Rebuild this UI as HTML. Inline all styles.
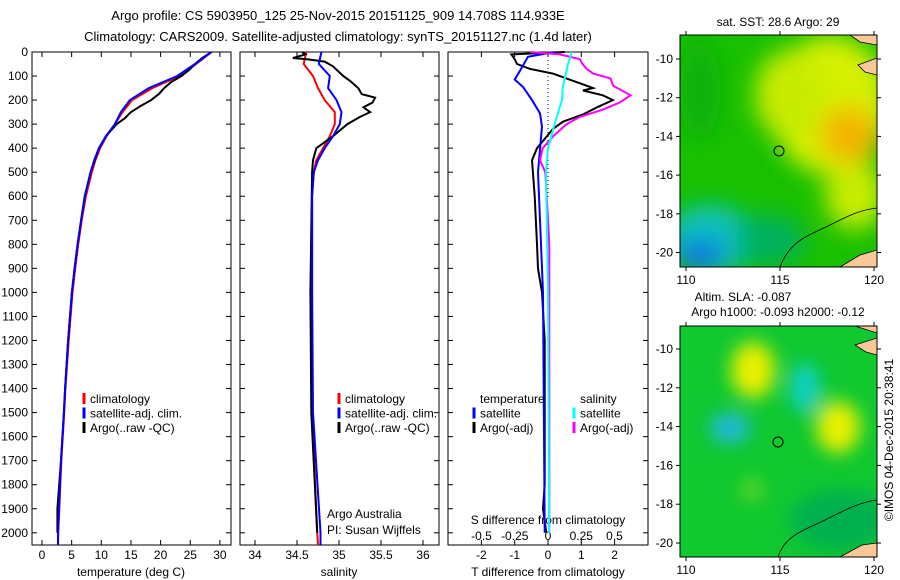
<!DOCTYPE html>
<html><head><meta charset="utf-8"><style>
body{margin:0;background:#fff}
svg{display:block;font-family:"Liberation Sans",sans-serif;font-size:12px}
</style></head><body>
<svg id="s" width="900" height="580" viewBox="0 0 900 580" xmlns="http://www.w3.org/2000/svg">
<defs>
<clipPath id="c1"><rect x="680" y="35" width="197" height="232"/></clipPath>
<clipPath id="c2"><rect x="680" y="326" width="197" height="231"/></clipPath>
<filter id="bl" x="-50%" y="-50%" width="200%" height="200%"><feGaussianBlur stdDeviation="12"/></filter>
<filter id="bl2" x="-50%" y="-50%" width="200%" height="200%"><feGaussianBlur stdDeviation="9"/></filter>
</defs>
<text x="338" y="20" text-anchor="middle" font-size="13">Argo profile: CS 5903950_125 25-Nov-2015 20151125_909 14.708S 114.933E</text>
<text x="338" y="41" text-anchor="middle" font-size="13">Climatology: CARS2009. Satellite-adjusted climatology: synTS_20151127.nc (1.4d later)</text>

<g>
<g clip-path="url(#c1)">
<rect x="680" y="35" width="197" height="232" fill="#18c000"/>
<g filter="url(#bl)">
<ellipse cx="830" cy="105" rx="60" ry="70" fill="#d6f000"/>
<ellipse cx="790" cy="95" rx="35" ry="45" fill="#c8ec00"/>
<ellipse cx="855" cy="195" rx="30" ry="35" fill="#c8ec00"/>
<ellipse cx="850" cy="135" rx="30" ry="28" fill="#f4b400"/>
<ellipse cx="700" cy="90" rx="20" ry="50" fill="#10b010"/>
<ellipse cx="710" cy="240" rx="45" ry="35" fill="#10c0c0"/>
<ellipse cx="700" cy="255" rx="25" ry="15" fill="#1070e0"/>
<ellipse cx="770" cy="240" rx="35" ry="25" fill="#00b060"/>
</g>
<path d="M850 35 L877 35 L877 45 L860 42 Z M858 65 L877 58 L877 75 L865 72 Z M840 267 L860 255 L877 250 L877 267 Z" fill="#f9c896" stroke="#000" stroke-width="0.8"/>
<path d="M780 267 C790 240 810 235 830 225 C850 215 860 210 877 208" fill="none" stroke="#000" stroke-width="0.8"/>
</g>
<rect x="680" y="35" width="197" height="232" fill="none" stroke="#000"/>
<circle cx="779" cy="151" r="5" fill="none" stroke="#000"/>
<text x="778" y="26" text-anchor="middle" font-size="12">sat. SST: 28.6 Argo: 29</text>
</g>

<g>
<g clip-path="url(#c2)">
<rect x="680" y="326" width="197" height="231" fill="#10c830"/>
<g filter="url(#bl2)">
<ellipse cx="753" cy="370" rx="22" ry="28" fill="#e8f000"/>
<ellipse cx="838" cy="427" rx="22" ry="26" fill="#e8f000"/>
<ellipse cx="805" cy="388" rx="15" ry="25" fill="#10d0c8"/>
<ellipse cx="730" cy="428" rx="20" ry="15" fill="#20b8e0"/>
<ellipse cx="752" cy="490" rx="10" ry="10" fill="#70dc20"/>
<ellipse cx="840" cy="520" rx="50" ry="30" fill="#00b050"/>
</g>
<path d="M855 326 L877 326 L877 333 Z M855 345 L877 338 L877 355 L866 352 Z M840 557 L862 545 L877 543 L877 557 Z" fill="#f9c896" stroke="#000" stroke-width="0.8"/>
<path d="M778 557 C785 535 805 530 825 520 C845 510 860 502 877 500" fill="none" stroke="#000" stroke-width="0.8"/>
</g>
<rect x="680" y="326" width="197" height="231" fill="none" stroke="#000"/>
<circle cx="778" cy="442" r="5" fill="none" stroke="#000"/>
<text x="743" y="301" text-anchor="middle" font-size="12">Altim. SLA: -0.087</text>
<text x="778" y="316" text-anchor="middle" font-size="12">Argo h1000: -0.093 h2000: -0.12</text>
</g>
<text transform="translate(893,440) rotate(-90)" text-anchor="middle" font-size="12">©IMOS 04-Dec-2015 20:38:41</text>

<text x="327" y="518" font-size="12">Argo Australia</text>
<text x="327" y="534" font-size="12">PI: Susan Wijffels</text>
<text x="548" y="524" text-anchor="middle" font-size="12">S difference from climatology</text>
</svg>
<script>
// ---- data ----
const depthTicks=[0,100,200,300,400,500,600,700,800,900,1000,1100,1200,1300,1400,1500,1600,1700,1800,1900,2000];
const tempTicks=[0,5,10,15,20,25,30];
const salTicks=["34","34.5","35","35.5","36"];
const tdTicks=[-2,-1,0,1,2];
const sdTicks=["-0.5","-0.25","0","0.25","0.5"];
const lonTicks=[110,115,120];
const latTicks=[-10,-12,-14,-16,-18,-20];

const tClimD=[0,50,100,150,200,250,300,350,400,450,500,600,700,800,900,1000,1200,1400,1500,1700,2000,2050];
const tClimV=[28.6,26,23.2,18.6,15.2,13.6,12.3,10.9,9.8,9.0,8.4,7.4,6.7,6.1,5.6,5.15,4.5,3.95,3.75,3.25,2.75,2.7];
const tSatV =[28.6,25.8,22.8,18.0,14.8,13.3,12.3,10.8,9.6,8.8,8.2,7.25,6.6,6.0,5.5,5.05,4.4,3.9,3.7,3.2,2.7,2.7];
const tArgoD=[0,25,50,75,100,125,150,175,200,225,250,275,300,350,400,500,600,700,800,900,1000,1200,1400,1500,1700,1900,2000];
const tArgoV=[28.6,27,25.8,24.8,23.5,21.8,20.6,19.7,18.4,16.6,15,14,12.6,10.8,9.6,8.2,7.2,6.6,6.0,5.5,5.05,4.4,3.9,3.7,3.2,2.6,2.6];

const sD=[0,50,100,150,200,250,300,350,400,450,500,600,1000,1500,2000,2050];
const sClimV=[34.61,34.58,34.69,34.75,34.83,34.95,34.95,34.89,34.81,34.73,34.70,34.68,34.68,34.68,34.74,34.75];
const sSatV=[34.79,34.76,34.89,34.87,34.97,35.03,35.01,34.93,34.83,34.75,34.70,34.68,34.68,34.69,34.78,34.78];
const sArgoD=[0,10,25,30,40,60,100,120,150,175,190,210,230,250,270,300,350,400,450,500,1000,1500,2000];
const sArgoV=[34.56,34.6,34.45,34.62,34.83,34.93,35.05,35.13,35.23,35.27,35.43,35.4,35.29,35.37,35.25,35.1,34.93,34.73,34.69,34.68,34.66,34.67,34.74];

const tdD=[0,20,80,115,145,200,255,310,500,1000,2000];
const tdSatV=[0.2,-0.6,-0.85,-1.0,-0.75,-0.48,-0.24,-0.18,-0.3,-0.15,-0.1];
const tdArgoD=[0,10,30,50,70,90,110,130,150,160,180,200,230,260,290,320,350,400,450,600,800,900,1000,1200,1500,1800,1900,2000];
const tdArgoV=[0.5,-1.1,-1.0,-0.93,-0.55,0.15,0.55,0.96,1.35,1.05,1.65,1.95,1.47,1.05,0.45,0.15,-0.03,-0.33,-0.48,-0.4,-0.33,-0.3,-0.18,-0.1,-0.1,-0.1,-0.15,-0.05];
const sdSatD=[0,50,150,200,300,400,500,1000,2000];
const sdSatV=[0.18,0.15,0.11,0.105,0.05,0,-0.015,0,0.01];
const sdArgoD=[0,10,30,50,70,90,110,140,180,210,240,270,300,350,400,450,500,600,800,1000,2000];
const sdArgoV=[-0.135,0.09,0.24,0.26,0.29,0.34,0.47,0.49,0.62,0.54,0.41,0.24,0.14,0.04,-0.04,-0.06,-0.02,-0.01,0.01,0.01,0.01];

// ---- axes ----
const Y=d=>52+d*0.2404;
const xT=v=>42+v*5.93;
const xS=v=>255+(v-34)*84;
const xTD=v=>548+v*33.3;
const xSD=v=>548+v*133;
const lonX=v=>686+(v-110)*18.8;
const lat1=v=>59+(-10-v)*19.35;
const lat2=v=>349+(-10-v)*19.4;
const svg=document.getElementById('s');
const NS='http://www.w3.org/2000/svg';
function mk(tag,attrs,parent){const e=document.createElementNS(NS,tag);for(const k in attrs)e.setAttribute(k,attrs[k]);(parent||svg).appendChild(e);return e;}
function txt(x,y,s,anchor,parent){const e=mk('text',{x:x,y:y,'text-anchor':anchor||'middle'},parent);e.textContent=s;return e;}

const panels=[{x0:32,x1:231,name:'temperature-panel'},{x0:240,x1:439,name:'salinity-panel'},{x0:448,x1:648,name:'difference-panel'}];
panels.forEach(p=>{
  const g=mk('g',{});
  
  
  p.g=g;
  const r=mk('rect',{x:p.x0,y:52,width:p.x1-p.x0,height:493,fill:'none',stroke:'#000'},g);
  
  
  depthTicks.forEach(d=>{
    mk('line',{x1:p.x0,x2:p.x0+5,y1:Y(d),y2:Y(d),stroke:'#000'},g);
    mk('line',{x1:p.x1,x2:p.x1-5,y1:Y(d),y2:Y(d),stroke:'#000'},g);
  });
});
const yl=mk('g',{});


depthTicks.forEach(d=>{txt(28,Y(d)+4,String(d),'end',yl);});

function xticks(p,vals,fx,y,top){
  vals.forEach(v=>{const x=fx(parseFloat(v));
    mk('line',{x1:x,x2:x,y1:545,y2:540,stroke:'#000'},p.g);
    if(top) mk('line',{x1:x,x2:x,y1:52,y2:57,stroke:'#000'},p.g);
    const t=txt(x,y,String(v),'middle',p.g);
    
    
  });
}
xticks(panels[0],tempTicks,xT,559,true);
xticks(panels[1],salTicks,xS,559,true);
xticks(panels[2],tdTicks,xTD,559,true);
sdTicks.forEach(v=>{const t=txt(xSD(parseFloat(v)),540,v,'middle',panels[2].g);
  
  });
[[131,'temperature (deg C)'],[339,'salinity'],[548,'T difference from climatology']].forEach((a,i)=>{
  const t=txt(a[0],576,a[1],'middle',panels[i].g);
  
  
});
mk('line',{x1:548,x2:548,y1:52,y2:200,stroke:'#000','stroke-dasharray':'1,3'},panels[2].g);

function line(D,V,fx,color,name,parent){
  const pts=D.map((d,i)=>fx(V[i]).toFixed(1)+','+Y(d).toFixed(1)).join(' ');
  const e=mk('polyline',{points:pts,fill:'none',stroke:color,'stroke-width':2},parent);
  
  
}
line(tClimD,tClimV,xT,'#ff0000','temp-climatology-line',panels[0].g);
line(tArgoD,tArgoV,xT,'#000','temp-argo-line',panels[0].g);
line(tClimD,tSatV,xT,'#0000ff','temp-satellite-line',panels[0].g);
line(sD,sClimV,xS,'#ff0000','sal-climatology-line',panels[1].g);
line(sArgoD,sArgoV,xS,'#000','sal-argo-line',panels[1].g);
line(sD,sSatV,xS,'#0000ff','sal-satellite-line',panels[1].g);
line(tdArgoD,tdArgoV,xTD,'#000','tdiff-argo-line',panels[2].g);
line(tdD,tdSatV,xTD,'#0000ff','tdiff-satellite-line',panels[2].g);
line(sdArgoD,sdArgoV,xSD,'#ff00ff','sdiff-argo-line',panels[2].g);
line(sdSatD,sdSatV,xSD,'#00ffff','sdiff-satellite-line',panels[2].g);

function legend(x,y,items,parent){
  items.forEach((it,i)=>{
    const yy=y+i*14.5;
    if(it[0]) mk('line',{x1:x,x2:x,y1:yy-10,y2:yy+1,stroke:it[0],'stroke-width':3},parent);
    const t=txt(x+6,yy,it[1],'start',parent);
    
    
  });
}
const L=[['#ff0000','climatology'],['#0000ff','satellite-adj. clim.'],['#000','Argo(..raw -QC)']];
legend(84,403,L,panels[0].g);
legend(339,403,L,panels[1].g);
legend(474,403,[[null,'temperature'],['#0000ff','satellite'],['#000','Argo(-adj)']],panels[2].g);
legend(574,403,[[null,'salinity'],['#00ffff','satellite'],['#ff00ff','Argo(-adj)']],panels[2].g);

// map ticks
[[35,267,lat1,'sst'],[326,557,lat2,'sla']].forEach(m=>{
  const g=mk('g',{});
  
  
  lonTicks.forEach(v=>{const x=lonX(v);
    mk('line',{x1:x,x2:x,y1:m[0],y2:m[0]-4,stroke:'#000'},g);
    mk('line',{x1:x,x2:x,y1:m[1],y2:m[1]+4,stroke:'#000'},g);
    txt(x,m[1]+17,String(v),'middle',g);});
  latTicks.forEach(v=>{const y=m[2](v);
    mk('line',{x1:680,x2:676,y1:y,y2:y,stroke:'#000'},g);
    mk('line',{x1:877,x2:881,y1:y,y2:y,stroke:'#000'},g);
    txt(673,y+4,String(v),'end',g);});
});
</script>
</body></html>
